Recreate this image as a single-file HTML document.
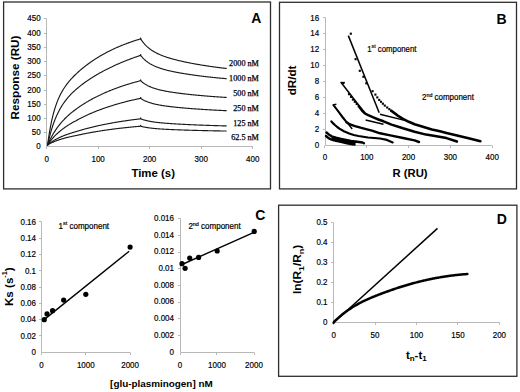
<!DOCTYPE html>
<html><head><meta charset="utf-8"><style>
html,body{margin:0;padding:0;background:#fff;width:520px;height:392px;overflow:hidden}
svg{display:block}
</style></head><body>
<svg width="520" height="392" viewBox="0 0 520 392"><rect x="3.6" y="2.0" width="266.9" height="186.9" fill="none" stroke="#2e2e2e" stroke-width="1.3"/>
<line x1="46.50" y1="146.50" x2="46.50" y2="18.80" stroke="#b8b8b8" stroke-width="1.0" />
<line x1="46.50" y1="146.50" x2="253.00" y2="146.50" stroke="#b8b8b8" stroke-width="1.0" />
<line x1="44.00" y1="132.50" x2="46.50" y2="132.50" stroke="#b8b8b8" stroke-width="1.0" />
<line x1="44.00" y1="118.50" x2="46.50" y2="118.50" stroke="#b8b8b8" stroke-width="1.0" />
<line x1="44.00" y1="104.50" x2="46.50" y2="104.50" stroke="#b8b8b8" stroke-width="1.0" />
<line x1="44.00" y1="90.50" x2="46.50" y2="90.50" stroke="#b8b8b8" stroke-width="1.0" />
<line x1="44.00" y1="75.50" x2="46.50" y2="75.50" stroke="#b8b8b8" stroke-width="1.0" />
<line x1="44.00" y1="61.50" x2="46.50" y2="61.50" stroke="#b8b8b8" stroke-width="1.0" />
<line x1="44.00" y1="47.50" x2="46.50" y2="47.50" stroke="#b8b8b8" stroke-width="1.0" />
<line x1="44.00" y1="33.50" x2="46.50" y2="33.50" stroke="#b8b8b8" stroke-width="1.0" />
<line x1="44.00" y1="18.50" x2="46.50" y2="18.50" stroke="#b8b8b8" stroke-width="1.0" />
<line x1="46.50" y1="146.50" x2="46.50" y2="149.00" stroke="#b8b8b8" stroke-width="1.0" />
<line x1="98.50" y1="146.50" x2="98.50" y2="149.00" stroke="#b8b8b8" stroke-width="1.0" />
<line x1="149.50" y1="146.50" x2="149.50" y2="149.00" stroke="#b8b8b8" stroke-width="1.0" />
<line x1="201.50" y1="146.50" x2="201.50" y2="149.00" stroke="#b8b8b8" stroke-width="1.0" />
<line x1="252.50" y1="146.50" x2="252.50" y2="149.00" stroke="#b8b8b8" stroke-width="1.0" />
<text transform="translate(40.60,149.40) scale(0.87,1)" font-size="9.2" text-anchor="end" font-family="&quot;Liberation Sans&quot;, sans-serif" stroke="#000" stroke-width="0.2">0</text>
<text transform="translate(40.60,135.18) scale(0.87,1)" font-size="9.2" text-anchor="end" font-family="&quot;Liberation Sans&quot;, sans-serif" stroke="#000" stroke-width="0.2">50</text>
<text transform="translate(40.60,120.96) scale(0.87,1)" font-size="9.2" text-anchor="end" font-family="&quot;Liberation Sans&quot;, sans-serif" stroke="#000" stroke-width="0.2">100</text>
<text transform="translate(40.60,106.74) scale(0.87,1)" font-size="9.2" text-anchor="end" font-family="&quot;Liberation Sans&quot;, sans-serif" stroke="#000" stroke-width="0.2">150</text>
<text transform="translate(40.60,92.52) scale(0.87,1)" font-size="9.2" text-anchor="end" font-family="&quot;Liberation Sans&quot;, sans-serif" stroke="#000" stroke-width="0.2">200</text>
<text transform="translate(40.60,78.30) scale(0.87,1)" font-size="9.2" text-anchor="end" font-family="&quot;Liberation Sans&quot;, sans-serif" stroke="#000" stroke-width="0.2">250</text>
<text transform="translate(40.60,64.08) scale(0.87,1)" font-size="9.2" text-anchor="end" font-family="&quot;Liberation Sans&quot;, sans-serif" stroke="#000" stroke-width="0.2">300</text>
<text transform="translate(40.60,49.86) scale(0.87,1)" font-size="9.2" text-anchor="end" font-family="&quot;Liberation Sans&quot;, sans-serif" stroke="#000" stroke-width="0.2">350</text>
<text transform="translate(40.60,35.64) scale(0.87,1)" font-size="9.2" text-anchor="end" font-family="&quot;Liberation Sans&quot;, sans-serif" stroke="#000" stroke-width="0.2">400</text>
<text transform="translate(40.60,21.42) scale(0.87,1)" font-size="9.2" text-anchor="end" font-family="&quot;Liberation Sans&quot;, sans-serif" stroke="#000" stroke-width="0.2">450</text>
<text transform="translate(46.60,161.60) scale(0.87,1)" font-size="9.2" text-anchor="middle" font-family="&quot;Liberation Sans&quot;, sans-serif" stroke="#000" stroke-width="0.2">0</text>
<text transform="translate(98.12,161.60) scale(0.87,1)" font-size="9.2" text-anchor="middle" font-family="&quot;Liberation Sans&quot;, sans-serif" stroke="#000" stroke-width="0.2">100</text>
<text transform="translate(149.64,161.60) scale(0.87,1)" font-size="9.2" text-anchor="middle" font-family="&quot;Liberation Sans&quot;, sans-serif" stroke="#000" stroke-width="0.2">200</text>
<text transform="translate(201.16,161.60) scale(0.87,1)" font-size="9.2" text-anchor="middle" font-family="&quot;Liberation Sans&quot;, sans-serif" stroke="#000" stroke-width="0.2">300</text>
<text transform="translate(252.68,161.60) scale(0.87,1)" font-size="9.2" text-anchor="middle" font-family="&quot;Liberation Sans&quot;, sans-serif" stroke="#000" stroke-width="0.2">400</text>
<text x="0.00" y="0.00" font-size="10.9" text-anchor="middle" font-weight="bold" font-family="&quot;Liberation Sans&quot;, sans-serif" transform="translate(19.4,77.5) rotate(-90) scale(1.075,1)">Response (RU)</text>
<text x="153.20" y="176.80" font-size="11.4" text-anchor="middle" font-weight="bold" font-family="&quot;Liberation Sans&quot;, sans-serif" >Time (s)</text>
<text x="256.20" y="23.40" font-size="14" text-anchor="middle" font-weight="bold" font-family="&quot;Liberation Sans&quot;, sans-serif" >A</text>
<polyline points="47.60,145.00 48.10,141.34 48.60,137.90 49.10,134.68 49.59,131.65 50.09,128.80 50.59,126.13 51.09,123.61 51.59,121.23 52.09,118.99 52.59,116.87 53.08,114.87 53.58,112.98 54.08,111.18 54.58,109.48 55.08,107.86 55.58,106.32 56.08,104.86 56.57,103.46 57.07,102.13 57.57,100.86 58.07,99.64 58.57,98.48 59.07,97.36 59.56,96.29 60.06,95.26 60.56,94.27 61.06,93.31 61.56,92.39 62.06,91.50 62.56,90.64 63.05,89.80 63.55,89.00 64.05,88.22 64.55,87.46 65.05,86.72 65.55,86.00 66.05,85.30 66.54,84.62 67.04,83.95 67.54,83.31 68.04,82.67 68.54,82.05 69.04,81.45 69.54,80.85 70.03,80.27 70.53,79.70 71.03,79.14 71.53,78.59 72.03,78.05 72.53,77.53 73.03,77.00 73.52,76.49 74.02,75.99 74.52,75.49 75.02,75.01 75.52,74.52 76.02,74.05 76.51,73.58 77.01,73.12 77.51,72.67 78.03,72.20 78.54,71.73 79.06,71.27 79.57,70.82 80.09,70.37 80.60,69.93 81.12,69.49 81.63,69.05 82.15,68.62 82.66,68.20 83.18,67.78 83.69,67.37 84.21,66.96 84.72,66.55 85.24,66.15 85.76,65.75 86.27,65.35 86.79,64.96 87.30,64.58 87.82,64.20 88.33,63.82 88.85,63.44 89.36,63.07 89.88,62.70 90.39,62.34 90.91,61.98 91.42,61.62 91.94,61.27 92.45,60.92 92.97,60.57 93.48,60.23 94.00,59.89 94.51,59.55 95.03,59.21 95.54,58.88 96.06,58.55 96.57,58.23 97.09,57.91 97.60,57.59 98.12,57.27 98.64,56.96 99.15,56.65 99.67,56.34 100.18,56.03 100.70,55.73 101.21,55.43 101.73,55.13 102.24,54.84 102.76,54.55 103.27,54.26 103.79,53.97 104.30,53.69 104.82,53.41 105.33,53.13 105.85,52.85 106.36,52.58 106.88,52.31 107.39,52.04 107.91,51.77 108.42,51.51 108.94,51.25 109.45,50.99 109.97,50.73 110.48,50.47 111.00,50.22 111.52,49.97 112.03,49.72 112.55,49.48 113.06,49.23 113.58,48.99 114.09,48.75 114.61,48.51 115.12,48.28 115.64,48.05 116.15,47.81 116.67,47.59 117.18,47.36 117.70,47.13 118.21,46.91 118.73,46.69 119.24,46.47 119.76,46.25 120.27,46.04 120.79,45.82 121.30,45.61 121.82,45.40 122.33,45.19 122.85,44.99 123.36,44.78 123.88,44.58 124.40,44.38 124.91,44.18 125.43,43.99 125.94,43.79 126.46,43.60 126.97,43.41 127.49,43.22 128.00,43.03 128.52,42.84 129.03,42.66 129.55,42.47 130.06,42.29 130.58,42.11 131.09,41.93 131.61,41.75 132.12,41.58 132.64,41.40 133.15,41.23 133.67,41.06 134.18,40.89 134.70,40.72 135.21,40.56 135.73,40.39 136.24,40.23 136.76,40.07 137.28,39.91 137.79,39.75 138.31,39.59 138.82,39.43 139.34,39.28 139.85,39.12 140.37,38.97 140.62,38.00 141.14,39.67 141.65,40.42 142.17,41.13 142.68,41.81 143.20,42.46 143.72,43.09 144.23,43.69 144.75,44.27 145.26,44.82 145.78,45.36 146.29,45.87 146.81,46.36 147.32,46.84 147.84,47.30 148.35,47.74 148.87,48.16 149.38,48.57 149.90,48.97 150.41,49.35 150.93,49.72 151.44,50.08 151.96,50.43 152.47,50.76 152.99,51.09 153.50,51.40 154.02,51.71 154.53,52.00 155.05,52.29 155.56,52.57 156.08,52.84 156.60,53.11 157.11,53.36 157.63,53.61 158.14,53.86 158.66,54.10 159.17,54.33 159.69,54.56 160.20,54.78 160.72,54.99 161.23,55.21 161.75,55.41 162.26,55.62 162.78,55.81 163.29,56.01 163.81,56.20 164.32,56.39 164.84,56.57 165.35,56.75 165.87,56.93 166.38,57.10 166.90,57.27 167.41,57.44 167.93,57.60 168.44,57.76 168.96,57.92 169.48,58.08 169.99,58.24 170.51,58.39 171.02,58.54 171.54,58.69 172.05,58.83 172.57,58.98 173.08,59.12 173.60,59.26 174.11,59.40 174.63,59.53 175.14,59.67 175.66,59.80 176.17,59.93 176.69,60.06 177.20,60.19 177.72,60.32 178.23,60.44 178.75,60.57 179.26,60.69 179.78,60.81 180.29,60.93 180.81,61.05 181.32,61.17 181.84,61.29 182.36,61.40 182.87,61.52 183.39,61.63 183.90,61.74 184.42,61.85 184.93,61.96 185.45,62.07 185.96,62.18 186.48,62.29 186.99,62.39 187.51,62.50 188.02,62.60 188.54,62.71 189.05,62.81 189.57,62.91 190.08,63.01 190.60,63.11 191.11,63.21 191.63,63.31 192.14,63.41 192.66,63.50 193.17,63.60 193.69,63.69 194.20,63.79 194.72,63.88 195.24,63.97 195.75,64.07 196.27,64.16 196.78,64.25 197.30,64.34 197.81,64.43 198.33,64.51 198.84,64.60 199.36,64.69 199.87,64.78 200.39,64.86 200.90,64.95 201.42,65.03 201.93,65.12 202.45,65.20 202.96,65.28 203.48,65.36 203.99,65.44 204.51,65.53 205.02,65.61 205.54,65.68 206.05,65.76 206.57,65.84 207.08,65.92 207.60,66.00 208.12,66.07 208.63,66.15 209.15,66.23 209.66,66.30 210.18,66.38 210.69,66.45 211.21,66.52 211.72,66.60 212.24,66.67 212.75,66.74 213.27,66.81 213.78,66.88 214.30,66.95 214.81,67.02 215.33,67.09 215.84,67.16 216.36,67.23 216.87,67.30 217.39,67.36 217.90,67.43 218.42,67.50 218.93,67.56 219.45,67.63 219.96,67.69 220.48,67.76 221.00,67.82 221.51,67.88 222.03,67.95 222.54,68.01 223.06,68.07 223.57,68.13 224.09,68.19 224.60,68.26 225.12,68.32 225.63,68.38 226.15,68.44" fill="none" stroke="#1a1a1a" stroke-width="1.15" stroke-linejoin="round" stroke-linecap="round" />
<text x="258.90" y="65.50" font-size="8.2" text-anchor="end" font-weight="normal" font-family="&quot;Liberation Serif&quot;, sans-serif" stroke="#000" stroke-width="0.25">2000 nM</text>
<polyline points="47.60,145.00 48.10,142.74 48.60,140.59 49.10,138.52 49.59,136.54 50.09,134.65 50.59,132.83 51.09,131.09 51.59,129.42 52.09,127.81 52.59,126.27 53.08,124.79 53.58,123.37 54.08,122.00 54.58,120.68 55.08,119.41 55.58,118.19 56.08,117.01 56.57,115.87 57.07,114.77 57.57,113.71 58.07,112.69 58.57,111.69 59.07,110.73 59.56,109.80 60.06,108.90 60.56,108.03 61.06,107.18 61.56,106.36 62.06,105.56 62.56,104.79 63.05,104.03 63.55,103.30 64.05,102.59 64.55,101.89 65.05,101.21 65.55,100.55 66.05,99.91 66.54,99.28 67.04,98.66 67.54,98.06 68.04,97.47 68.54,96.90 69.04,96.33 69.54,95.78 70.03,95.24 70.53,94.71 71.03,94.19 71.53,93.68 72.03,93.18 72.53,92.69 73.03,92.21 73.52,91.73 74.02,91.27 74.52,90.81 75.02,90.36 75.52,89.91 76.02,89.48 76.51,89.05 77.01,88.62 77.51,88.20 78.03,87.77 78.54,87.34 79.06,86.91 79.57,86.50 80.09,86.08 80.60,85.67 81.12,85.27 81.63,84.87 82.15,84.47 82.66,84.08 83.18,83.70 83.69,83.32 84.21,82.94 84.72,82.56 85.24,82.19 85.76,81.83 86.27,81.46 86.79,81.10 87.30,80.75 87.82,80.40 88.33,80.05 88.85,79.70 89.36,79.36 89.88,79.02 90.39,78.68 90.91,78.35 91.42,78.02 91.94,77.69 92.45,77.36 92.97,77.04 93.48,76.72 94.00,76.40 94.51,76.09 95.03,75.78 95.54,75.47 96.06,75.16 96.57,74.86 97.09,74.55 97.60,74.25 98.12,73.96 98.64,73.66 99.15,73.37 99.67,73.08 100.18,72.79 100.70,72.50 101.21,72.22 101.73,71.93 102.24,71.65 102.76,71.38 103.27,71.10 103.79,70.83 104.30,70.55 104.82,70.28 105.33,70.01 105.85,69.75 106.36,69.48 106.88,69.22 107.39,68.96 107.91,68.70 108.42,68.44 108.94,68.19 109.45,67.93 109.97,67.68 110.48,67.43 111.00,67.18 111.52,66.94 112.03,66.69 112.55,66.45 113.06,66.21 113.58,65.97 114.09,65.73 114.61,65.49 115.12,65.26 115.64,65.02 116.15,64.79 116.67,64.56 117.18,64.33 117.70,64.11 118.21,63.88 118.73,63.66 119.24,63.43 119.76,63.21 120.27,62.99 120.79,62.77 121.30,62.56 121.82,62.34 122.33,62.13 122.85,61.92 123.36,61.71 123.88,61.50 124.40,61.29 124.91,61.08 125.43,60.88 125.94,60.67 126.46,60.47 126.97,60.27 127.49,60.07 128.00,59.87 128.52,59.67 129.03,59.48 129.55,59.28 130.06,59.09 130.58,58.89 131.09,58.70 131.61,58.51 132.12,58.33 132.64,58.14 133.15,57.95 133.67,57.77 134.18,57.58 134.70,57.40 135.21,57.22 135.73,57.04 136.24,56.86 136.76,56.69 137.28,56.51 137.79,56.33 138.31,56.16 138.82,55.99 139.34,55.82 139.85,55.65 140.37,55.48 140.62,54.49 141.14,56.03 141.65,56.64 142.17,57.23 142.68,57.79 143.20,58.32 143.72,58.84 144.23,59.33 144.75,59.80 145.26,60.25 145.78,60.69 146.29,61.11 146.81,61.51 147.32,61.89 147.84,62.27 148.35,62.62 148.87,62.97 149.38,63.30 149.90,63.62 150.41,63.93 150.93,64.23 151.44,64.51 151.96,64.79 152.47,65.06 152.99,65.32 153.50,65.57 154.02,65.81 154.53,66.05 155.05,66.28 155.56,66.50 156.08,66.72 156.60,66.93 157.11,67.13 157.63,67.33 158.14,67.52 158.66,67.71 159.17,67.89 159.69,68.07 160.20,68.25 160.72,68.42 161.23,68.58 161.75,68.74 162.26,68.90 162.78,69.06 163.29,69.21 163.81,69.36 164.32,69.50 164.84,69.65 165.35,69.79 165.87,69.92 166.38,70.06 166.90,70.19 167.41,70.32 167.93,70.45 168.44,70.57 168.96,70.69 169.48,70.81 169.99,70.93 170.51,71.05 171.02,71.17 171.54,71.28 172.05,71.39 172.57,71.50 173.08,71.61 173.60,71.72 174.11,71.82 174.63,71.93 175.14,72.03 175.66,72.13 176.17,72.23 176.69,72.33 177.20,72.43 177.72,72.53 178.23,72.62 178.75,72.72 179.26,72.81 179.78,72.90 180.29,73.00 180.81,73.09 181.32,73.18 181.84,73.27 182.36,73.35 182.87,73.44 183.39,73.53 183.90,73.61 184.42,73.70 184.93,73.78 185.45,73.86 185.96,73.94 186.48,74.02 186.99,74.11 187.51,74.19 188.02,74.26 188.54,74.34 189.05,74.42 189.57,74.50 190.08,74.57 190.60,74.65 191.11,74.72 191.63,74.80 192.14,74.87 192.66,74.94 193.17,75.02 193.69,75.09 194.20,75.16 194.72,75.23 195.24,75.30 195.75,75.37 196.27,75.44 196.78,75.51 197.30,75.58 197.81,75.64 198.33,75.71 198.84,75.78 199.36,75.84 199.87,75.91 200.39,75.97 200.90,76.04 201.42,76.10 201.93,76.16 202.45,76.23 202.96,76.29 203.48,76.35 203.99,76.41 204.51,76.47 205.02,76.53 205.54,76.60 206.05,76.65 206.57,76.71 207.08,76.77 207.60,76.83 208.12,76.89 208.63,76.95 209.15,77.00 209.66,77.06 210.18,77.12 210.69,77.17 211.21,77.23 211.72,77.28 212.24,77.34 212.75,77.39 213.27,77.45 213.78,77.50 214.30,77.55 214.81,77.60 215.33,77.66 215.84,77.71 216.36,77.76 216.87,77.81 217.39,77.86 217.90,77.91 218.42,77.96 218.93,78.01 219.45,78.06 219.96,78.11 220.48,78.16 221.00,78.21 221.51,78.26 222.03,78.30 222.54,78.35 223.06,78.40 223.57,78.44 224.09,78.49 224.60,78.54 225.12,78.58 225.63,78.63 226.15,78.67" fill="none" stroke="#1a1a1a" stroke-width="1.15" stroke-linejoin="round" stroke-linecap="round" />
<text x="258.90" y="80.60" font-size="8.2" text-anchor="end" font-weight="normal" font-family="&quot;Liberation Serif&quot;, sans-serif" stroke="#000" stroke-width="0.25">1000 nM</text>
<polyline points="47.60,145.00 48.10,143.85 48.60,142.74 49.10,141.66 49.59,140.62 50.09,139.60 50.59,138.61 51.09,137.65 51.59,136.72 52.09,135.81 52.59,134.93 53.08,134.07 53.58,133.23 54.08,132.42 54.58,131.62 55.08,130.85 55.58,130.09 56.08,129.36 56.57,128.64 57.07,127.93 57.57,127.25 58.07,126.57 58.57,125.92 59.07,125.28 59.56,124.65 60.06,124.03 60.56,123.43 61.06,122.84 61.56,122.26 62.06,121.70 62.56,121.14 63.05,120.60 63.55,120.06 64.05,119.54 64.55,119.02 65.05,118.52 65.55,118.02 66.05,117.53 66.54,117.05 67.04,116.58 67.54,116.11 68.04,115.66 68.54,115.21 69.04,114.76 69.54,114.33 70.03,113.90 70.53,113.48 71.03,113.06 71.53,112.65 72.03,112.24 72.53,111.84 73.03,111.45 73.52,111.06 74.02,110.68 74.52,110.30 75.02,109.93 75.52,109.56 76.02,109.20 76.51,108.84 77.01,108.49 77.51,108.14 78.03,107.77 78.54,107.40 79.06,107.04 79.57,106.68 80.09,106.33 80.60,105.98 81.12,105.64 81.63,105.30 82.15,104.96 82.66,104.62 83.18,104.29 83.69,103.96 84.21,103.64 84.72,103.32 85.24,103.00 85.76,102.69 86.27,102.37 86.79,102.06 87.30,101.76 87.82,101.46 88.33,101.15 88.85,100.86 89.36,100.56 89.88,100.27 90.39,99.98 90.91,99.69 91.42,99.41 91.94,99.13 92.45,98.85 92.97,98.57 93.48,98.30 94.00,98.03 94.51,97.76 95.03,97.49 95.54,97.23 96.06,96.96 96.57,96.70 97.09,96.45 97.60,96.19 98.12,95.94 98.64,95.68 99.15,95.43 99.67,95.19 100.18,94.94 100.70,94.70 101.21,94.46 101.73,94.22 102.24,93.98 102.76,93.75 103.27,93.51 103.79,93.28 104.30,93.05 104.82,92.82 105.33,92.60 105.85,92.37 106.36,92.15 106.88,91.93 107.39,91.71 107.91,91.50 108.42,91.28 108.94,91.07 109.45,90.86 109.97,90.65 110.48,90.44 111.00,90.23 111.52,90.03 112.03,89.82 112.55,89.62 113.06,89.42 113.58,89.22 114.09,89.03 114.61,88.83 115.12,88.64 115.64,88.44 116.15,88.25 116.67,88.06 117.18,87.88 117.70,87.69 118.21,87.50 118.73,87.32 119.24,87.14 119.76,86.96 120.27,86.78 120.79,86.60 121.30,86.42 121.82,86.25 122.33,86.07 122.85,85.90 123.36,85.73 123.88,85.56 124.40,85.39 124.91,85.23 125.43,85.06 125.94,84.90 126.46,84.73 126.97,84.57 127.49,84.41 128.00,84.25 128.52,84.09 129.03,83.93 129.55,83.78 130.06,83.62 130.58,83.47 131.09,83.32 131.61,83.17 132.12,83.02 132.64,82.87 133.15,82.72 133.67,82.57 134.18,82.43 134.70,82.28 135.21,82.14 135.73,82.00 136.24,81.86 136.76,81.72 137.28,81.58 137.79,81.44 138.31,81.31 138.82,81.17 139.34,81.04 139.85,80.90 140.37,80.77 140.62,79.80 141.14,81.16 141.65,81.60 142.17,82.03 142.68,82.43 143.20,82.82 143.72,83.19 144.23,83.54 144.75,83.88 145.26,84.21 145.78,84.52 146.29,84.82 146.81,85.11 147.32,85.39 147.84,85.66 148.35,85.91 148.87,86.16 149.38,86.40 149.90,86.63 150.41,86.85 150.93,87.07 151.44,87.27 151.96,87.47 152.47,87.67 152.99,87.85 153.50,88.04 154.02,88.21 154.53,88.38 155.05,88.55 155.56,88.71 156.08,88.86 156.60,89.01 157.11,89.16 157.63,89.30 158.14,89.44 158.66,89.58 159.17,89.71 159.69,89.84 160.20,89.96 160.72,90.08 161.23,90.20 161.75,90.32 162.26,90.43 162.78,90.54 163.29,90.65 163.81,90.76 164.32,90.86 164.84,90.97 165.35,91.07 165.87,91.16 166.38,91.26 166.90,91.36 167.41,91.45 167.93,91.54 168.44,91.63 168.96,91.72 169.48,91.81 169.99,91.89 170.51,91.98 171.02,92.06 171.54,92.14 172.05,92.22 172.57,92.30 173.08,92.38 173.60,92.45 174.11,92.53 174.63,92.61 175.14,92.68 175.66,92.75 176.17,92.82 176.69,92.90 177.20,92.97 177.72,93.04 178.23,93.10 178.75,93.17 179.26,93.24 179.78,93.31 180.29,93.37 180.81,93.44 181.32,93.50 181.84,93.56 182.36,93.63 182.87,93.69 183.39,93.75 183.90,93.81 184.42,93.87 184.93,93.93 185.45,93.99 185.96,94.05 186.48,94.11 186.99,94.17 187.51,94.22 188.02,94.28 188.54,94.34 189.05,94.39 189.57,94.45 190.08,94.50 190.60,94.56 191.11,94.61 191.63,94.66 192.14,94.72 192.66,94.77 193.17,94.82 193.69,94.87 194.20,94.92 194.72,94.98 195.24,95.03 195.75,95.08 196.27,95.13 196.78,95.17 197.30,95.22 197.81,95.27 198.33,95.32 198.84,95.37 199.36,95.41 199.87,95.46 200.39,95.51 200.90,95.55 201.42,95.60 201.93,95.64 202.45,95.69 202.96,95.73 203.48,95.78 203.99,95.82 204.51,95.87 205.02,95.91 205.54,95.95 206.05,96.00 206.57,96.04 207.08,96.08 207.60,96.12 208.12,96.16 208.63,96.21 209.15,96.25 209.66,96.29 210.18,96.33 210.69,96.37 211.21,96.41 211.72,96.45 212.24,96.49 212.75,96.52 213.27,96.56 213.78,96.60 214.30,96.64 214.81,96.68 215.33,96.71 215.84,96.75 216.36,96.79 216.87,96.83 217.39,96.86 217.90,96.90 218.42,96.93 218.93,96.97 219.45,97.01 219.96,97.04 220.48,97.08 221.00,97.11 221.51,97.14 222.03,97.18 222.54,97.21 223.06,97.25 223.57,97.28 224.09,97.31 224.60,97.35 225.12,97.38 225.63,97.41 226.15,97.44" fill="none" stroke="#1a1a1a" stroke-width="1.15" stroke-linejoin="round" stroke-linecap="round" />
<text x="258.90" y="95.90" font-size="8.2" text-anchor="end" font-weight="normal" font-family="&quot;Liberation Serif&quot;, sans-serif" stroke="#000" stroke-width="0.25">500 nM</text>
<polyline points="47.60,145.00 48.10,144.24 48.60,143.51 49.10,142.80 49.59,142.11 50.09,141.44 50.59,140.79 51.09,140.16 51.59,139.54 52.09,138.95 52.59,138.37 53.08,137.80 53.58,137.25 54.08,136.71 54.58,136.18 55.08,135.67 55.58,135.17 56.08,134.67 56.57,134.19 57.07,133.73 57.57,133.27 58.07,132.82 58.57,132.37 59.07,131.94 59.56,131.52 60.06,131.10 60.56,130.69 61.06,130.29 61.56,129.90 62.06,129.51 62.56,129.13 63.05,128.76 63.55,128.39 64.05,128.02 64.55,127.67 65.05,127.32 65.55,126.97 66.05,126.63 66.54,126.29 67.04,125.96 67.54,125.63 68.04,125.31 68.54,124.99 69.04,124.68 69.54,124.37 70.03,124.06 70.53,123.76 71.03,123.46 71.53,123.16 72.03,122.87 72.53,122.58 73.03,122.30 73.52,122.02 74.02,121.74 74.52,121.46 75.02,121.19 75.52,120.92 76.02,120.66 76.51,120.39 77.01,120.13 77.51,119.88 78.03,119.60 78.54,119.32 79.06,119.05 79.57,118.78 80.09,118.51 80.60,118.24 81.12,117.98 81.63,117.72 82.15,117.46 82.66,117.20 83.18,116.95 83.69,116.70 84.21,116.45 84.72,116.20 85.24,115.96 85.76,115.71 86.27,115.47 86.79,115.23 87.30,115.00 87.82,114.76 88.33,114.53 88.85,114.30 89.36,114.07 89.88,113.84 90.39,113.61 90.91,113.39 91.42,113.17 91.94,112.95 92.45,112.73 92.97,112.51 93.48,112.30 94.00,112.09 94.51,111.88 95.03,111.67 95.54,111.46 96.06,111.25 96.57,111.05 97.09,110.84 97.60,110.64 98.12,110.44 98.64,110.25 99.15,110.05 99.67,109.85 100.18,109.66 100.70,109.47 101.21,109.28 101.73,109.09 102.24,108.90 102.76,108.72 103.27,108.53 103.79,108.35 104.30,108.17 104.82,107.99 105.33,107.81 105.85,107.63 106.36,107.45 106.88,107.28 107.39,107.11 107.91,106.93 108.42,106.76 108.94,106.59 109.45,106.43 109.97,106.26 110.48,106.09 111.00,105.93 111.52,105.77 112.03,105.60 112.55,105.44 113.06,105.28 113.58,105.13 114.09,104.97 114.61,104.81 115.12,104.66 115.64,104.51 116.15,104.36 116.67,104.20 117.18,104.05 117.70,103.91 118.21,103.76 118.73,103.61 119.24,103.47 119.76,103.32 120.27,103.18 120.79,103.04 121.30,102.90 121.82,102.76 122.33,102.62 122.85,102.48 123.36,102.35 123.88,102.21 124.40,102.08 124.91,101.94 125.43,101.81 125.94,101.68 126.46,101.55 126.97,101.42 127.49,101.29 128.00,101.17 128.52,101.04 129.03,100.91 129.55,100.79 130.06,100.67 130.58,100.54 131.09,100.42 131.61,100.30 132.12,100.18 132.64,100.06 133.15,99.95 133.67,99.83 134.18,99.71 134.70,99.60 135.21,99.48 135.73,99.37 136.24,99.26 136.76,99.15 137.28,99.04 137.79,98.93 138.31,98.82 138.82,98.71 139.34,98.60 139.85,98.49 140.37,98.39 140.62,97.44 141.14,98.67 141.65,99.00 142.17,99.31 142.68,99.60 143.20,99.89 143.72,100.16 144.23,100.42 144.75,100.67 145.26,100.91 145.78,101.14 146.29,101.36 146.81,101.57 147.32,101.78 147.84,101.97 148.35,102.16 148.87,102.34 149.38,102.52 149.90,102.69 150.41,102.85 150.93,103.01 151.44,103.16 151.96,103.31 152.47,103.45 152.99,103.59 153.50,103.72 154.02,103.85 154.53,103.98 155.05,104.10 155.56,104.22 156.08,104.33 156.60,104.44 157.11,104.55 157.63,104.66 158.14,104.76 158.66,104.86 159.17,104.95 159.69,105.05 160.20,105.14 160.72,105.23 161.23,105.32 161.75,105.41 162.26,105.49 162.78,105.57 163.29,105.65 163.81,105.73 164.32,105.81 164.84,105.88 165.35,105.96 165.87,106.03 166.38,106.10 166.90,106.17 167.41,106.24 167.93,106.31 168.44,106.37 168.96,106.44 169.48,106.50 169.99,106.57 170.51,106.63 171.02,106.69 171.54,106.75 172.05,106.81 172.57,106.87 173.08,106.93 173.60,106.98 174.11,107.04 174.63,107.10 175.14,107.15 175.66,107.20 176.17,107.26 176.69,107.31 177.20,107.36 177.72,107.41 178.23,107.47 178.75,107.52 179.26,107.57 179.78,107.61 180.29,107.66 180.81,107.71 181.32,107.76 181.84,107.81 182.36,107.85 182.87,107.90 183.39,107.94 183.90,107.99 184.42,108.03 184.93,108.08 185.45,108.12 185.96,108.17 186.48,108.21 186.99,108.25 187.51,108.29 188.02,108.34 188.54,108.38 189.05,108.42 189.57,108.46 190.08,108.50 190.60,108.54 191.11,108.58 191.63,108.62 192.14,108.66 192.66,108.70 193.17,108.74 193.69,108.78 194.20,108.81 194.72,108.85 195.24,108.89 195.75,108.92 196.27,108.96 196.78,109.00 197.30,109.03 197.81,109.07 198.33,109.11 198.84,109.14 199.36,109.18 199.87,109.21 200.39,109.24 200.90,109.28 201.42,109.31 201.93,109.35 202.45,109.38 202.96,109.41 203.48,109.45 203.99,109.48 204.51,109.51 205.02,109.54 205.54,109.58 206.05,109.61 206.57,109.64 207.08,109.67 207.60,109.70 208.12,109.73 208.63,109.76 209.15,109.79 209.66,109.82 210.18,109.85 210.69,109.88 211.21,109.91 211.72,109.94 212.24,109.97 212.75,110.00 213.27,110.03 213.78,110.06 214.30,110.08 214.81,110.11 215.33,110.14 215.84,110.17 216.36,110.19 216.87,110.22 217.39,110.25 217.90,110.28 218.42,110.30 218.93,110.33 219.45,110.35 219.96,110.38 220.48,110.41 221.00,110.43 221.51,110.46 222.03,110.48 222.54,110.51 223.06,110.53 223.57,110.56 224.09,110.58 224.60,110.61 225.12,110.63 225.63,110.65 226.15,110.68" fill="none" stroke="#1a1a1a" stroke-width="1.15" stroke-linejoin="round" stroke-linecap="round" />
<text x="258.90" y="110.70" font-size="8.2" text-anchor="end" font-weight="normal" font-family="&quot;Liberation Serif&quot;, sans-serif" stroke="#000" stroke-width="0.25">250 nM</text>
<polyline points="47.60,145.00 48.10,144.58 48.60,144.16 49.10,143.77 49.59,143.38 50.09,143.01 50.59,142.64 51.09,142.29 51.59,141.95 52.09,141.62 52.59,141.29 53.08,140.98 53.58,140.67 54.08,140.37 54.58,140.08 55.08,139.79 55.58,139.51 56.08,139.24 56.57,138.98 57.07,138.72 57.57,138.46 58.07,138.22 58.57,137.97 59.07,137.73 59.56,137.50 60.06,137.27 60.56,137.05 61.06,136.83 61.56,136.61 62.06,136.40 62.56,136.19 63.05,135.98 63.55,135.78 64.05,135.58 64.55,135.39 65.05,135.20 65.55,135.01 66.05,134.82 66.54,134.64 67.04,134.46 67.54,134.28 68.04,134.11 68.54,133.93 69.04,133.76 69.54,133.59 70.03,133.43 70.53,133.26 71.03,133.10 71.53,132.94 72.03,132.79 72.53,132.63 73.03,132.48 73.52,132.33 74.02,132.18 74.52,132.03 75.02,131.88 75.52,131.74 76.02,131.59 76.51,131.45 77.01,131.31 77.51,131.18 78.03,131.02 78.54,130.86 79.06,130.70 79.57,130.55 80.09,130.39 80.60,130.24 81.12,130.09 81.63,129.94 82.15,129.79 82.66,129.64 83.18,129.50 83.69,129.35 84.21,129.21 84.72,129.07 85.24,128.93 85.76,128.79 86.27,128.65 86.79,128.51 87.30,128.38 87.82,128.24 88.33,128.11 88.85,127.97 89.36,127.84 89.88,127.71 90.39,127.58 90.91,127.45 91.42,127.33 91.94,127.20 92.45,127.08 92.97,126.95 93.48,126.83 94.00,126.71 94.51,126.58 95.03,126.46 95.54,126.34 96.06,126.23 96.57,126.11 97.09,125.99 97.60,125.88 98.12,125.76 98.64,125.65 99.15,125.54 99.67,125.42 100.18,125.31 100.70,125.20 101.21,125.09 101.73,124.98 102.24,124.88 102.76,124.77 103.27,124.66 103.79,124.56 104.30,124.46 104.82,124.35 105.33,124.25 105.85,124.15 106.36,124.05 106.88,123.95 107.39,123.85 107.91,123.75 108.42,123.65 108.94,123.55 109.45,123.46 109.97,123.36 110.48,123.27 111.00,123.17 111.52,123.08 112.03,122.98 112.55,122.89 113.06,122.80 113.58,122.71 114.09,122.62 114.61,122.53 115.12,122.44 115.64,122.35 116.15,122.27 116.67,122.18 117.18,122.10 117.70,122.01 118.21,121.93 118.73,121.84 119.24,121.76 119.76,121.68 120.27,121.59 120.79,121.51 121.30,121.43 121.82,121.35 122.33,121.27 122.85,121.19 123.36,121.12 123.88,121.04 124.40,120.96 124.91,120.88 125.43,120.81 125.94,120.73 126.46,120.66 126.97,120.58 127.49,120.51 128.00,120.44 128.52,120.36 129.03,120.29 129.55,120.22 130.06,120.15 130.58,120.08 131.09,120.01 131.61,119.94 132.12,119.87 132.64,119.80 133.15,119.74 133.67,119.67 134.18,119.60 134.70,119.54 135.21,119.47 135.73,119.41 136.24,119.34 136.76,119.28 137.28,119.21 137.79,119.15 138.31,119.09 138.82,119.03 139.34,118.97 139.85,118.90 140.37,118.84 140.62,117.91 141.14,119.01 141.65,119.19 142.17,119.37 142.68,119.54 143.20,119.70 143.72,119.86 144.23,120.01 144.75,120.15 145.26,120.29 145.78,120.42 146.29,120.55 146.81,120.67 147.32,120.79 147.84,120.90 148.35,121.01 148.87,121.12 149.38,121.22 149.90,121.32 150.41,121.41 150.93,121.50 151.44,121.59 151.96,121.67 152.47,121.76 152.99,121.83 153.50,121.91 154.02,121.99 154.53,122.06 155.05,122.13 155.56,122.20 156.08,122.26 156.60,122.33 157.11,122.39 157.63,122.45 158.14,122.51 158.66,122.56 159.17,122.62 159.69,122.68 160.20,122.73 160.72,122.78 161.23,122.83 161.75,122.88 162.26,122.93 162.78,122.98 163.29,123.02 163.81,123.07 164.32,123.11 164.84,123.16 165.35,123.20 165.87,123.24 166.38,123.28 166.90,123.32 167.41,123.36 167.93,123.40 168.44,123.44 168.96,123.48 169.48,123.51 169.99,123.55 170.51,123.59 171.02,123.62 171.54,123.66 172.05,123.69 172.57,123.72 173.08,123.76 173.60,123.79 174.11,123.82 174.63,123.86 175.14,123.89 175.66,123.92 176.17,123.95 176.69,123.98 177.20,124.01 177.72,124.04 178.23,124.07 178.75,124.10 179.26,124.13 179.78,124.15 180.29,124.18 180.81,124.21 181.32,124.24 181.84,124.27 182.36,124.29 182.87,124.32 183.39,124.35 183.90,124.37 184.42,124.40 184.93,124.42 185.45,124.45 185.96,124.47 186.48,124.50 186.99,124.52 187.51,124.55 188.02,124.57 188.54,124.60 189.05,124.62 189.57,124.64 190.08,124.67 190.60,124.69 191.11,124.71 191.63,124.74 192.14,124.76 192.66,124.78 193.17,124.80 193.69,124.83 194.20,124.85 194.72,124.87 195.24,124.89 195.75,124.91 196.27,124.93 196.78,124.95 197.30,124.97 197.81,125.00 198.33,125.02 198.84,125.04 199.36,125.06 199.87,125.08 200.39,125.10 200.90,125.12 201.42,125.14 201.93,125.16 202.45,125.17 202.96,125.19 203.48,125.21 203.99,125.23 204.51,125.25 205.02,125.27 205.54,125.29 206.05,125.31 206.57,125.32 207.08,125.34 207.60,125.36 208.12,125.38 208.63,125.40 209.15,125.41 209.66,125.43 210.18,125.45 210.69,125.46 211.21,125.48 211.72,125.50 212.24,125.52 212.75,125.53 213.27,125.55 213.78,125.56 214.30,125.58 214.81,125.60 215.33,125.61 215.84,125.63 216.36,125.65 216.87,125.66 217.39,125.68 217.90,125.69 218.42,125.71 218.93,125.72 219.45,125.74 219.96,125.75 220.48,125.77 221.00,125.78 221.51,125.80 222.03,125.81 222.54,125.83 223.06,125.84 223.57,125.85 224.09,125.87 224.60,125.88 225.12,125.90 225.63,125.91 226.15,125.92" fill="none" stroke="#1a1a1a" stroke-width="1.15" stroke-linejoin="round" stroke-linecap="round" />
<text x="258.90" y="125.50" font-size="8.2" text-anchor="end" font-weight="normal" font-family="&quot;Liberation Serif&quot;, sans-serif" stroke="#000" stroke-width="0.25">125 nM</text>
<polyline points="47.60,145.00 48.10,144.70 48.60,144.40 49.10,144.12 49.59,143.84 50.09,143.57 50.59,143.31 51.09,143.06 51.59,142.82 52.09,142.58 52.59,142.35 53.08,142.12 53.58,141.90 54.08,141.69 54.58,141.48 55.08,141.28 55.58,141.08 56.08,140.89 56.57,140.70 57.07,140.52 57.57,140.34 58.07,140.17 58.57,139.99 59.07,139.83 59.56,139.66 60.06,139.50 60.56,139.34 61.06,139.19 61.56,139.03 62.06,138.89 62.56,138.74 63.05,138.59 63.55,138.45 64.05,138.31 64.55,138.18 65.05,138.04 65.55,137.91 66.05,137.78 66.54,137.65 67.04,137.53 67.54,137.40 68.04,137.28 68.54,137.16 69.04,137.04 69.54,136.93 70.03,136.81 70.53,136.70 71.03,136.59 71.53,136.48 72.03,136.37 72.53,136.26 73.03,136.15 73.52,136.05 74.02,135.94 74.52,135.84 75.02,135.74 75.52,135.64 76.02,135.54 76.51,135.45 77.01,135.35 77.51,135.26 78.03,135.14 78.54,135.02 79.06,134.91 79.57,134.80 80.09,134.68 80.60,134.57 81.12,134.46 81.63,134.35 82.15,134.24 82.66,134.13 83.18,134.03 83.69,133.92 84.21,133.82 84.72,133.71 85.24,133.61 85.76,133.51 86.27,133.41 86.79,133.31 87.30,133.21 87.82,133.11 88.33,133.01 88.85,132.91 89.36,132.82 89.88,132.72 90.39,132.63 90.91,132.53 91.42,132.44 91.94,132.35 92.45,132.25 92.97,132.16 93.48,132.07 94.00,131.98 94.51,131.90 95.03,131.81 95.54,131.72 96.06,131.63 96.57,131.55 97.09,131.46 97.60,131.38 98.12,131.29 98.64,131.21 99.15,131.13 99.67,131.05 100.18,130.96 100.70,130.88 101.21,130.80 101.73,130.72 102.24,130.65 102.76,130.57 103.27,130.49 103.79,130.41 104.30,130.34 104.82,130.26 105.33,130.19 105.85,130.11 106.36,130.04 106.88,129.96 107.39,129.89 107.91,129.82 108.42,129.75 108.94,129.68 109.45,129.61 109.97,129.54 110.48,129.47 111.00,129.40 111.52,129.33 112.03,129.26 112.55,129.19 113.06,129.13 113.58,129.06 114.09,128.99 114.61,128.93 115.12,128.86 115.64,128.80 116.15,128.74 116.67,128.67 117.18,128.61 117.70,128.55 118.21,128.49 118.73,128.42 119.24,128.36 119.76,128.30 120.27,128.24 120.79,128.18 121.30,128.12 121.82,128.07 122.33,128.01 122.85,127.95 123.36,127.89 123.88,127.84 124.40,127.78 124.91,127.72 125.43,127.67 125.94,127.61 126.46,127.56 126.97,127.50 127.49,127.45 128.00,127.40 128.52,127.34 129.03,127.29 129.55,127.24 130.06,127.19 130.58,127.14 131.09,127.08 131.61,127.03 132.12,126.98 132.64,126.93 133.15,126.88 133.67,126.83 134.18,126.79 134.70,126.74 135.21,126.69 135.73,126.64 136.24,126.59 136.76,126.55 137.28,126.50 137.79,126.46 138.31,126.41 138.82,126.36 139.34,126.32 139.85,126.27 140.37,126.23 140.62,125.31 141.14,126.35 141.65,126.48 142.17,126.60 142.68,126.73 143.20,126.84 143.72,126.95 144.23,127.06 144.75,127.16 145.26,127.26 145.78,127.35 146.29,127.44 146.81,127.53 147.32,127.61 147.84,127.69 148.35,127.76 148.87,127.84 149.38,127.91 149.90,127.98 150.41,128.04 150.93,128.11 151.44,128.17 151.96,128.23 152.47,128.28 152.99,128.34 153.50,128.39 154.02,128.44 154.53,128.49 155.05,128.54 155.56,128.59 156.08,128.63 156.60,128.68 157.11,128.72 157.63,128.76 158.14,128.80 158.66,128.84 159.17,128.88 159.69,128.91 160.20,128.95 160.72,128.98 161.23,129.02 161.75,129.05 162.26,129.09 162.78,129.12 163.29,129.15 163.81,129.18 164.32,129.21 164.84,129.24 165.35,129.27 165.87,129.29 166.38,129.32 166.90,129.35 167.41,129.38 167.93,129.40 168.44,129.43 168.96,129.45 169.48,129.48 169.99,129.50 170.51,129.52 171.02,129.55 171.54,129.57 172.05,129.59 172.57,129.62 173.08,129.64 173.60,129.66 174.11,129.68 174.63,129.70 175.14,129.72 175.66,129.74 176.17,129.76 176.69,129.78 177.20,129.80 177.72,129.82 178.23,129.84 178.75,129.86 179.26,129.88 179.78,129.90 180.29,129.92 180.81,129.94 181.32,129.95 181.84,129.97 182.36,129.99 182.87,130.01 183.39,130.02 183.90,130.04 184.42,130.06 184.93,130.07 185.45,130.09 185.96,130.11 186.48,130.12 186.99,130.14 187.51,130.16 188.02,130.17 188.54,130.19 189.05,130.20 189.57,130.22 190.08,130.23 190.60,130.25 191.11,130.26 191.63,130.28 192.14,130.29 192.66,130.31 193.17,130.32 193.69,130.34 194.20,130.35 194.72,130.36 195.24,130.38 195.75,130.39 196.27,130.41 196.78,130.42 197.30,130.43 197.81,130.45 198.33,130.46 198.84,130.47 199.36,130.49 199.87,130.50 200.39,130.51 200.90,130.53 201.42,130.54 201.93,130.55 202.45,130.56 202.96,130.58 203.48,130.59 203.99,130.60 204.51,130.61 205.02,130.62 205.54,130.64 206.05,130.65 206.57,130.66 207.08,130.67 207.60,130.68 208.12,130.70 208.63,130.71 209.15,130.72 209.66,130.73 210.18,130.74 210.69,130.75 211.21,130.76 211.72,130.77 212.24,130.78 212.75,130.80 213.27,130.81 213.78,130.82 214.30,130.83 214.81,130.84 215.33,130.85 215.84,130.86 216.36,130.87 216.87,130.88 217.39,130.89 217.90,130.90 218.42,130.91 218.93,130.92 219.45,130.93 219.96,130.94 220.48,130.95 221.00,130.96 221.51,130.97 222.03,130.98 222.54,130.99 223.06,131.00 223.57,131.00 224.09,131.01 224.60,131.02 225.12,131.03 225.63,131.04 226.15,131.05" fill="none" stroke="#1a1a1a" stroke-width="1.15" stroke-linejoin="round" stroke-linecap="round" />
<text x="258.90" y="140.00" font-size="8.2" text-anchor="end" font-weight="normal" font-family="&quot;Liberation Serif&quot;, sans-serif" stroke="#000" stroke-width="0.25">62.5 nM</text>
<rect x="279.5" y="2.3" width="237.0" height="186.6" fill="none" stroke="#2e2e2e" stroke-width="1.3"/>
<line x1="325.50" y1="145.50" x2="325.50" y2="17.50" stroke="#b8b8b8" stroke-width="1.0" />
<line x1="325.50" y1="145.50" x2="491.80" y2="145.50" stroke="#b8b8b8" stroke-width="1.0" />
<line x1="323.00" y1="129.50" x2="325.50" y2="129.50" stroke="#b8b8b8" stroke-width="1.0" />
<line x1="323.00" y1="113.50" x2="325.50" y2="113.50" stroke="#b8b8b8" stroke-width="1.0" />
<line x1="323.00" y1="97.50" x2="325.50" y2="97.50" stroke="#b8b8b8" stroke-width="1.0" />
<line x1="323.00" y1="81.50" x2="325.50" y2="81.50" stroke="#b8b8b8" stroke-width="1.0" />
<line x1="323.00" y1="65.50" x2="325.50" y2="65.50" stroke="#b8b8b8" stroke-width="1.0" />
<line x1="323.00" y1="49.50" x2="325.50" y2="49.50" stroke="#b8b8b8" stroke-width="1.0" />
<line x1="323.00" y1="33.50" x2="325.50" y2="33.50" stroke="#b8b8b8" stroke-width="1.0" />
<line x1="323.00" y1="17.50" x2="325.50" y2="17.50" stroke="#b8b8b8" stroke-width="1.0" />
<line x1="324.50" y1="145.50" x2="324.50" y2="148.00" stroke="#b8b8b8" stroke-width="1.0" />
<line x1="366.50" y1="145.50" x2="366.50" y2="148.00" stroke="#b8b8b8" stroke-width="1.0" />
<line x1="408.50" y1="145.50" x2="408.50" y2="148.00" stroke="#b8b8b8" stroke-width="1.0" />
<line x1="450.50" y1="145.50" x2="450.50" y2="148.00" stroke="#b8b8b8" stroke-width="1.0" />
<line x1="492.50" y1="145.50" x2="492.50" y2="148.00" stroke="#b8b8b8" stroke-width="1.0" />
<text transform="translate(319.20,147.70) scale(0.87,1)" font-size="9.2" text-anchor="end" font-family="&quot;Liberation Sans&quot;, sans-serif" stroke="#000" stroke-width="0.2">0</text>
<text transform="translate(319.20,131.80) scale(0.87,1)" font-size="9.2" text-anchor="end" font-family="&quot;Liberation Sans&quot;, sans-serif" stroke="#000" stroke-width="0.2">2</text>
<text transform="translate(319.20,115.90) scale(0.87,1)" font-size="9.2" text-anchor="end" font-family="&quot;Liberation Sans&quot;, sans-serif" stroke="#000" stroke-width="0.2">4</text>
<text transform="translate(319.20,100.00) scale(0.87,1)" font-size="9.2" text-anchor="end" font-family="&quot;Liberation Sans&quot;, sans-serif" stroke="#000" stroke-width="0.2">6</text>
<text transform="translate(319.20,84.10) scale(0.87,1)" font-size="9.2" text-anchor="end" font-family="&quot;Liberation Sans&quot;, sans-serif" stroke="#000" stroke-width="0.2">8</text>
<text transform="translate(319.20,68.20) scale(0.87,1)" font-size="9.2" text-anchor="end" font-family="&quot;Liberation Sans&quot;, sans-serif" stroke="#000" stroke-width="0.2">10</text>
<text transform="translate(319.20,52.30) scale(0.87,1)" font-size="9.2" text-anchor="end" font-family="&quot;Liberation Sans&quot;, sans-serif" stroke="#000" stroke-width="0.2">12</text>
<text transform="translate(319.20,36.40) scale(0.87,1)" font-size="9.2" text-anchor="end" font-family="&quot;Liberation Sans&quot;, sans-serif" stroke="#000" stroke-width="0.2">14</text>
<text transform="translate(319.20,20.50) scale(0.87,1)" font-size="9.2" text-anchor="end" font-family="&quot;Liberation Sans&quot;, sans-serif" stroke="#000" stroke-width="0.2">16</text>
<text transform="translate(325.00,160.20) scale(0.87,1)" font-size="9.2" text-anchor="middle" font-family="&quot;Liberation Sans&quot;, sans-serif" stroke="#000" stroke-width="0.2">0</text>
<text transform="translate(366.80,160.20) scale(0.87,1)" font-size="9.2" text-anchor="middle" font-family="&quot;Liberation Sans&quot;, sans-serif" stroke="#000" stroke-width="0.2">100</text>
<text transform="translate(408.60,160.20) scale(0.87,1)" font-size="9.2" text-anchor="middle" font-family="&quot;Liberation Sans&quot;, sans-serif" stroke="#000" stroke-width="0.2">200</text>
<text transform="translate(450.40,160.20) scale(0.87,1)" font-size="9.2" text-anchor="middle" font-family="&quot;Liberation Sans&quot;, sans-serif" stroke="#000" stroke-width="0.2">300</text>
<text transform="translate(492.20,160.20) scale(0.87,1)" font-size="9.2" text-anchor="middle" font-family="&quot;Liberation Sans&quot;, sans-serif" stroke="#000" stroke-width="0.2">400</text>
<text x="0.00" y="0.00" font-size="10.9" text-anchor="middle" font-weight="bold" font-family="&quot;Liberation Sans&quot;, sans-serif" transform="translate(296.4,80.5) rotate(-90) scale(1.07,1)">dR/dt</text>
<text x="410.00" y="177.20" font-size="11.3" text-anchor="middle" font-weight="bold" font-family="&quot;Liberation Sans&quot;, sans-serif" >R (RU)</text>
<text x="501.60" y="23.60" font-size="14" text-anchor="middle" font-weight="bold" font-family="&quot;Liberation Sans&quot;, sans-serif" >B</text>
<text textLength="49.2" lengthAdjust="spacingAndGlyphs" x="367.2" y="51.7" font-size="8.3" font-family="&quot;Liberation Sans&quot;, sans-serif" stroke="#000" stroke-width="0.2">1<tspan font-size="5.6" dy="-3.3">st</tspan><tspan dy="3.3"> component</tspan></text>
<text textLength="51.9" lengthAdjust="spacingAndGlyphs" x="422.0" y="100.2" font-size="8.3" font-family="&quot;Liberation Sans&quot;, sans-serif" stroke="#000" stroke-width="0.2">2<tspan font-size="5.6" dy="-3.3">nd</tspan><tspan dy="3.3"> component</tspan></text>
<polygon points="331.6,136.8 341,139.2 351,141.4 357,142.2 354.5,144.3 351,143.7 341,141.6 331.6,139.2" fill="#000"/>
<polyline points="391.20,110.80 393.50,112.40 397.30,115.30 403.00,118.80 408.80,121.80 414.60,124.20 420.40,126.00 426.10,127.70 431.90,129.40 440.00,131.30 446.50,132.90 458.10,135.80 469.60,138.60 480.40,141.20" fill="none" stroke="#000" stroke-width="2.6" stroke-linejoin="round" stroke-linecap="round" />
<polyline points="359.50,107.30 362.00,110.50 365.00,113.50 368.20,115.20 373.30,117.30 378.40,119.50 383.50,121.30 391.50,124.60 403.00,128.30 414.60,131.70 426.10,134.60 435.00,135.90 446.50,138.10 456.90,141.50" fill="none" stroke="#000" stroke-width="2.5" stroke-linejoin="round" stroke-linecap="round" />
<polyline points="333.60,105.40 336.50,109.20 340.00,114.00 343.00,118.30 346.50,122.30" fill="none" stroke="#000" stroke-width="1.7" stroke-linejoin="round" stroke-linecap="round" />
<polyline points="346.50,122.30 348.50,123.60 350.80,124.60 355.00,126.10 360.50,127.70 366.00,129.10 372.00,130.60 380.00,133.30 391.50,135.60 403.00,138.00 414.60,140.40 419.00,142.00" fill="none" stroke="#000" stroke-width="2.4" stroke-linejoin="round" stroke-linecap="round" />
<polyline points="331.40,121.40 333.20,123.40 334.90,125.00 337.20,127.00 339.40,128.60 343.90,131.30 349.20,133.50 353.70,135.00 358.50,136.00 368.00,137.50 380.00,138.50 386.90,139.90 392.70,142.40" fill="none" stroke="#000" stroke-width="2.2" stroke-linejoin="round" stroke-linecap="round" />
<polyline points="326.50,132.50 328.50,134.20 331.60,136.30 336.00,137.60 341.00,138.80 346.00,139.90 351.00,141.00 357.00,141.80 362.50,142.50 364.00,143.30" fill="none" stroke="#000" stroke-width="2.4" stroke-linejoin="round" stroke-linecap="round" />
<polyline points="326.00,136.00 328.50,138.20 331.60,139.60 336.00,140.80 341.00,141.90 346.00,143.00 351.00,144.00 354.50,144.50" fill="none" stroke="#000" stroke-width="2.4" stroke-linejoin="round" stroke-linecap="round" />
<rect x="349.75" y="32.65" width="2.1" height="2.1" fill="#000"/>
<rect x="354.55" y="58.15" width="2.1" height="2.1" fill="#000"/>
<rect x="358.75" y="69.75" width="2.1" height="2.1" fill="#000"/>
<rect x="362.35" y="75.75" width="2.1" height="2.1" fill="#000"/>
<rect x="365.25" y="82.25" width="2.1" height="2.1" fill="#000"/>
<rect x="371.55" y="90.15" width="2.1" height="2.1" fill="#000"/>
<rect x="374.35" y="93.55" width="2.1" height="2.1" fill="#000"/>
<rect x="376.25" y="96.35" width="2.1" height="2.1" fill="#000"/>
<rect x="378.15" y="98.85" width="2.1" height="2.1" fill="#000"/>
<rect x="379.95" y="100.75" width="2.1" height="2.1" fill="#000"/>
<rect x="381.85" y="102.65" width="2.1" height="2.1" fill="#000"/>
<rect x="383.75" y="104.55" width="2.1" height="2.1" fill="#000"/>
<rect x="386.15" y="106.45" width="2.1" height="2.1" fill="#000"/>
<rect x="388.25" y="108.15" width="2.1" height="2.1" fill="#000"/>
<rect x="390.15" y="109.65" width="2.1" height="2.1" fill="#000"/>
<rect x="342.25" y="81.95" width="2.1" height="2.1" fill="#000"/>
<rect x="347.95" y="93.15" width="2.1" height="2.1" fill="#000"/>
<rect x="349.95" y="95.85" width="2.1" height="2.1" fill="#000"/>
<rect x="351.85" y="98.55" width="2.1" height="2.1" fill="#000"/>
<rect x="353.75" y="100.75" width="2.1" height="2.1" fill="#000"/>
<rect x="355.65" y="102.95" width="2.1" height="2.1" fill="#000"/>
<rect x="357.55" y="105.15" width="2.1" height="2.1" fill="#000"/>
<line x1="332.60" y1="104.90" x2="336.40" y2="104.30" stroke="#000" stroke-width="1.5" />
<line x1="341.20" y1="82.60" x2="344.80" y2="82.60" stroke="#000" stroke-width="1.4" />
<line x1="348.30" y1="35.60" x2="379.20" y2="112.70" stroke="#000" stroke-width="1.5" />
<line x1="380.00" y1="114.20" x2="404.60" y2="120.40" stroke="#000" stroke-width="1.4" />
<line x1="340.70" y1="82.00" x2="365.00" y2="113.30" stroke="#000" stroke-width="1.5" />
<line x1="365.60" y1="120.00" x2="383.50" y2="124.20" stroke="#000" stroke-width="1.4" />
<line x1="334.20" y1="105.80" x2="352.20" y2="129.00" stroke="#000" stroke-width="1.4" />
<text x="260.20" y="220.20" font-size="14" text-anchor="middle" font-weight="bold" font-family="&quot;Liberation Sans&quot;, sans-serif" >C</text>
<line x1="41.50" y1="352.50" x2="41.50" y2="221.60" stroke="#b8b8b8" stroke-width="1.0" />
<line x1="41.50" y1="352.50" x2="130.20" y2="352.50" stroke="#b8b8b8" stroke-width="1.0" />
<line x1="39.00" y1="335.50" x2="41.50" y2="335.50" stroke="#b8b8b8" stroke-width="1.0" />
<line x1="39.00" y1="319.50" x2="41.50" y2="319.50" stroke="#b8b8b8" stroke-width="1.0" />
<line x1="39.00" y1="303.50" x2="41.50" y2="303.50" stroke="#b8b8b8" stroke-width="1.0" />
<line x1="39.00" y1="287.50" x2="41.50" y2="287.50" stroke="#b8b8b8" stroke-width="1.0" />
<line x1="39.00" y1="270.50" x2="41.50" y2="270.50" stroke="#b8b8b8" stroke-width="1.0" />
<line x1="39.00" y1="254.50" x2="41.50" y2="254.50" stroke="#b8b8b8" stroke-width="1.0" />
<line x1="39.00" y1="238.50" x2="41.50" y2="238.50" stroke="#b8b8b8" stroke-width="1.0" />
<line x1="39.00" y1="221.50" x2="41.50" y2="221.50" stroke="#b8b8b8" stroke-width="1.0" />
<line x1="41.50" y1="352.50" x2="41.50" y2="355.00" stroke="#b8b8b8" stroke-width="1.0" />
<line x1="85.50" y1="352.50" x2="85.50" y2="355.00" stroke="#b8b8b8" stroke-width="1.0" />
<line x1="130.50" y1="352.50" x2="130.50" y2="355.00" stroke="#b8b8b8" stroke-width="1.0" />
<text transform="translate(36.00,355.10) scale(0.87,1)" font-size="9.2" text-anchor="end" font-family="&quot;Liberation Sans&quot;, sans-serif" stroke="#000" stroke-width="0.2">0</text>
<text transform="translate(36.00,338.78) scale(0.87,1)" font-size="9.2" text-anchor="end" font-family="&quot;Liberation Sans&quot;, sans-serif" stroke="#000" stroke-width="0.2">0.02</text>
<text transform="translate(36.00,322.46) scale(0.87,1)" font-size="9.2" text-anchor="end" font-family="&quot;Liberation Sans&quot;, sans-serif" stroke="#000" stroke-width="0.2">0.04</text>
<text transform="translate(36.00,306.14) scale(0.87,1)" font-size="9.2" text-anchor="end" font-family="&quot;Liberation Sans&quot;, sans-serif" stroke="#000" stroke-width="0.2">0.06</text>
<text transform="translate(36.00,289.82) scale(0.87,1)" font-size="9.2" text-anchor="end" font-family="&quot;Liberation Sans&quot;, sans-serif" stroke="#000" stroke-width="0.2">0.08</text>
<text transform="translate(36.00,273.50) scale(0.87,1)" font-size="9.2" text-anchor="end" font-family="&quot;Liberation Sans&quot;, sans-serif" stroke="#000" stroke-width="0.2">0.1</text>
<text transform="translate(36.00,257.18) scale(0.87,1)" font-size="9.2" text-anchor="end" font-family="&quot;Liberation Sans&quot;, sans-serif" stroke="#000" stroke-width="0.2">0.12</text>
<text transform="translate(36.00,240.86) scale(0.87,1)" font-size="9.2" text-anchor="end" font-family="&quot;Liberation Sans&quot;, sans-serif" stroke="#000" stroke-width="0.2">0.14</text>
<text transform="translate(36.00,224.54) scale(0.87,1)" font-size="9.2" text-anchor="end" font-family="&quot;Liberation Sans&quot;, sans-serif" stroke="#000" stroke-width="0.2">0.16</text>
<text transform="translate(41.50,368.00) scale(0.87,1)" font-size="9.2" text-anchor="middle" font-family="&quot;Liberation Sans&quot;, sans-serif" stroke="#000" stroke-width="0.2">0</text>
<text transform="translate(85.80,368.00) scale(0.87,1)" font-size="9.2" text-anchor="middle" font-family="&quot;Liberation Sans&quot;, sans-serif" stroke="#000" stroke-width="0.2">1000</text>
<text transform="translate(130.10,368.00) scale(0.87,1)" font-size="9.2" text-anchor="middle" font-family="&quot;Liberation Sans&quot;, sans-serif" stroke="#000" stroke-width="0.2">2000</text>
<circle cx="44.27" cy="319.66" r="2.6" fill="#000"/>
<circle cx="47.04" cy="313.95" r="2.6" fill="#000"/>
<circle cx="52.58" cy="310.68" r="2.6" fill="#000"/>
<circle cx="63.65" cy="300.08" r="2.6" fill="#000"/>
<circle cx="85.80" cy="294.36" r="2.6" fill="#000"/>
<circle cx="130.10" cy="247.04" r="2.6" fill="#000"/>
<line x1="42.90" y1="320.60" x2="129.20" y2="251.20" stroke="#000" stroke-width="1.4" />
<text textLength="50.5" lengthAdjust="spacingAndGlyphs" x="58.6" y="228.6" font-size="8.3" font-family="&quot;Liberation Sans&quot;, sans-serif" stroke="#000" stroke-width="0.2">1<tspan font-size="5.6" dy="-3.3">st</tspan><tspan dy="3.3"> component</tspan></text>
<text x="0" y="0" font-size="10.6" font-weight="bold" text-anchor="middle" font-family="&quot;Liberation Sans&quot;, sans-serif" transform="translate(12.9,286.7) rotate(-90) scale(1.1,1)">Ks (s<tspan font-size="6.6" dy="-5.6">-1</tspan><tspan dy="5.6">)</tspan></text>
<text x="161.40" y="387.20" font-size="9.9" text-anchor="middle" font-weight="bold" font-family="&quot;Liberation Sans&quot;, sans-serif" >[glu-plasminogen] nM</text>
<line x1="180.50" y1="352.50" x2="180.50" y2="218.50" stroke="#b8b8b8" stroke-width="1.0" />
<line x1="180.50" y1="352.50" x2="254.20" y2="352.50" stroke="#b8b8b8" stroke-width="1.0" />
<line x1="178.00" y1="335.50" x2="180.50" y2="335.50" stroke="#b8b8b8" stroke-width="1.0" />
<line x1="178.00" y1="318.50" x2="180.50" y2="318.50" stroke="#b8b8b8" stroke-width="1.0" />
<line x1="178.00" y1="302.50" x2="180.50" y2="302.50" stroke="#b8b8b8" stroke-width="1.0" />
<line x1="178.00" y1="285.50" x2="180.50" y2="285.50" stroke="#b8b8b8" stroke-width="1.0" />
<line x1="178.00" y1="268.50" x2="180.50" y2="268.50" stroke="#b8b8b8" stroke-width="1.0" />
<line x1="178.00" y1="252.50" x2="180.50" y2="252.50" stroke="#b8b8b8" stroke-width="1.0" />
<line x1="178.00" y1="235.50" x2="180.50" y2="235.50" stroke="#b8b8b8" stroke-width="1.0" />
<line x1="178.00" y1="218.50" x2="180.50" y2="218.50" stroke="#b8b8b8" stroke-width="1.0" />
<line x1="180.50" y1="352.50" x2="180.50" y2="355.00" stroke="#b8b8b8" stroke-width="1.0" />
<line x1="216.50" y1="352.50" x2="216.50" y2="355.00" stroke="#b8b8b8" stroke-width="1.0" />
<line x1="254.50" y1="352.50" x2="254.50" y2="355.00" stroke="#b8b8b8" stroke-width="1.0" />
<text transform="translate(174.00,354.50) scale(0.87,1)" font-size="9.2" text-anchor="end" font-family="&quot;Liberation Sans&quot;, sans-serif" stroke="#000" stroke-width="0.2">0</text>
<text transform="translate(174.00,337.81) scale(0.87,1)" font-size="9.2" text-anchor="end" font-family="&quot;Liberation Sans&quot;, sans-serif" stroke="#000" stroke-width="0.2">0.002</text>
<text transform="translate(174.00,321.12) scale(0.87,1)" font-size="9.2" text-anchor="end" font-family="&quot;Liberation Sans&quot;, sans-serif" stroke="#000" stroke-width="0.2">0.004</text>
<text transform="translate(174.00,304.43) scale(0.87,1)" font-size="9.2" text-anchor="end" font-family="&quot;Liberation Sans&quot;, sans-serif" stroke="#000" stroke-width="0.2">0.006</text>
<text transform="translate(174.00,287.74) scale(0.87,1)" font-size="9.2" text-anchor="end" font-family="&quot;Liberation Sans&quot;, sans-serif" stroke="#000" stroke-width="0.2">0.008</text>
<text transform="translate(174.00,271.05) scale(0.87,1)" font-size="9.2" text-anchor="end" font-family="&quot;Liberation Sans&quot;, sans-serif" stroke="#000" stroke-width="0.2">0.01</text>
<text transform="translate(174.00,254.36) scale(0.87,1)" font-size="9.2" text-anchor="end" font-family="&quot;Liberation Sans&quot;, sans-serif" stroke="#000" stroke-width="0.2">0.012</text>
<text transform="translate(174.00,237.67) scale(0.87,1)" font-size="9.2" text-anchor="end" font-family="&quot;Liberation Sans&quot;, sans-serif" stroke="#000" stroke-width="0.2">0.014</text>
<text transform="translate(174.00,220.98) scale(0.87,1)" font-size="9.2" text-anchor="end" font-family="&quot;Liberation Sans&quot;, sans-serif" stroke="#000" stroke-width="0.2">0.016</text>
<text transform="translate(180.00,367.80) scale(0.87,1)" font-size="9.2" text-anchor="middle" font-family="&quot;Liberation Sans&quot;, sans-serif" stroke="#000" stroke-width="0.2">0</text>
<text transform="translate(217.00,367.80) scale(0.87,1)" font-size="9.2" text-anchor="middle" font-family="&quot;Liberation Sans&quot;, sans-serif" stroke="#000" stroke-width="0.2">1000</text>
<text transform="translate(254.00,367.80) scale(0.87,1)" font-size="9.2" text-anchor="middle" font-family="&quot;Liberation Sans&quot;, sans-serif" stroke="#000" stroke-width="0.2">2000</text>
<circle cx="182.00" cy="263.70" r="2.6" fill="#000"/>
<circle cx="185.10" cy="268.30" r="2.6" fill="#000"/>
<circle cx="189.70" cy="258.10" r="2.6" fill="#000"/>
<circle cx="198.60" cy="257.40" r="2.6" fill="#000"/>
<circle cx="217.20" cy="251.00" r="2.6" fill="#000"/>
<circle cx="254.20" cy="231.40" r="2.6" fill="#000"/>
<line x1="182.00" y1="264.50" x2="253.40" y2="232.60" stroke="#000" stroke-width="1.4" />
<text textLength="52.3" lengthAdjust="spacingAndGlyphs" x="188.4" y="229.1" font-size="8.3" font-family="&quot;Liberation Sans&quot;, sans-serif" stroke="#000" stroke-width="0.2">2<tspan font-size="5.6" dy="-3.3">nd</tspan><tspan dy="3.3"> component</tspan></text>
<rect x="278.6" y="205.2" width="238.3" height="171.1" fill="none" stroke="#2e2e2e" stroke-width="1.3"/>
<line x1="333.50" y1="322.50" x2="333.50" y2="222.50" stroke="#b8b8b8" stroke-width="1.0" />
<line x1="333.50" y1="322.50" x2="499.60" y2="322.50" stroke="#b8b8b8" stroke-width="1.0" />
<line x1="331.00" y1="302.50" x2="333.50" y2="302.50" stroke="#b8b8b8" stroke-width="1.0" />
<line x1="331.00" y1="282.50" x2="333.50" y2="282.50" stroke="#b8b8b8" stroke-width="1.0" />
<line x1="331.00" y1="262.50" x2="333.50" y2="262.50" stroke="#b8b8b8" stroke-width="1.0" />
<line x1="331.00" y1="242.50" x2="333.50" y2="242.50" stroke="#b8b8b8" stroke-width="1.0" />
<line x1="331.00" y1="222.50" x2="333.50" y2="222.50" stroke="#b8b8b8" stroke-width="1.0" />
<line x1="333.50" y1="322.50" x2="333.50" y2="325.00" stroke="#b8b8b8" stroke-width="1.0" />
<line x1="375.50" y1="322.50" x2="375.50" y2="325.00" stroke="#b8b8b8" stroke-width="1.0" />
<line x1="416.50" y1="322.50" x2="416.50" y2="325.00" stroke="#b8b8b8" stroke-width="1.0" />
<line x1="457.50" y1="322.50" x2="457.50" y2="325.00" stroke="#b8b8b8" stroke-width="1.0" />
<line x1="499.50" y1="322.50" x2="499.50" y2="325.00" stroke="#b8b8b8" stroke-width="1.0" />
<text transform="translate(327.50,325.00) scale(0.87,1)" font-size="9.2" text-anchor="end" font-family="&quot;Liberation Sans&quot;, sans-serif" stroke="#000" stroke-width="0.2">0</text>
<text transform="translate(327.50,305.00) scale(0.87,1)" font-size="9.2" text-anchor="end" font-family="&quot;Liberation Sans&quot;, sans-serif" stroke="#000" stroke-width="0.2">0.1</text>
<text transform="translate(327.50,285.00) scale(0.87,1)" font-size="9.2" text-anchor="end" font-family="&quot;Liberation Sans&quot;, sans-serif" stroke="#000" stroke-width="0.2">0.2</text>
<text transform="translate(327.50,265.00) scale(0.87,1)" font-size="9.2" text-anchor="end" font-family="&quot;Liberation Sans&quot;, sans-serif" stroke="#000" stroke-width="0.2">0.3</text>
<text transform="translate(327.50,245.00) scale(0.87,1)" font-size="9.2" text-anchor="end" font-family="&quot;Liberation Sans&quot;, sans-serif" stroke="#000" stroke-width="0.2">0.4</text>
<text transform="translate(327.50,225.00) scale(0.87,1)" font-size="9.2" text-anchor="end" font-family="&quot;Liberation Sans&quot;, sans-serif" stroke="#000" stroke-width="0.2">0.5</text>
<text transform="translate(333.60,338.40) scale(0.87,1)" font-size="9.2" text-anchor="middle" font-family="&quot;Liberation Sans&quot;, sans-serif" stroke="#000" stroke-width="0.2">0</text>
<text transform="translate(375.05,338.40) scale(0.87,1)" font-size="9.2" text-anchor="middle" font-family="&quot;Liberation Sans&quot;, sans-serif" stroke="#000" stroke-width="0.2">50</text>
<text transform="translate(416.50,338.40) scale(0.87,1)" font-size="9.2" text-anchor="middle" font-family="&quot;Liberation Sans&quot;, sans-serif" stroke="#000" stroke-width="0.2">100</text>
<text transform="translate(457.95,338.40) scale(0.87,1)" font-size="9.2" text-anchor="middle" font-family="&quot;Liberation Sans&quot;, sans-serif" stroke="#000" stroke-width="0.2">150</text>
<text transform="translate(499.40,338.40) scale(0.87,1)" font-size="9.2" text-anchor="middle" font-family="&quot;Liberation Sans&quot;, sans-serif" stroke="#000" stroke-width="0.2">200</text>
<text x="0" y="0" font-size="10.6" font-weight="bold" text-anchor="middle" font-family="&quot;Liberation Sans&quot;, sans-serif" transform="translate(301.4,269.4) rotate(-90) scale(1.12,1)">ln(R<tspan font-size="8" dy="2.2">1</tspan><tspan dy="-2.2">/R</tspan><tspan font-size="8" dy="2.2">n</tspan><tspan dy="-2.2">)</tspan></text>
<text x="416.3" y="358.6" font-size="11.4" font-weight="bold" text-anchor="middle" font-family="&quot;Liberation Sans&quot;, sans-serif">t<tspan font-size="8" dy="2">n</tspan><tspan dy="-2">-t</tspan><tspan font-size="8" dy="2">1</tspan></text>
<text x="501.80" y="223.80" font-size="14" text-anchor="middle" font-weight="bold" font-family="&quot;Liberation Sans&quot;, sans-serif" >D</text>
<line x1="333.60" y1="322.70" x2="437.50" y2="228.40" stroke="#000" stroke-width="1.5" />
<polyline points="333.60,322.70 334.44,321.44 335.27,320.63 336.11,319.85 336.94,319.07 337.78,318.32 338.62,317.58 339.45,316.85 340.29,316.14 341.12,315.44 341.96,314.76 342.80,314.09 343.63,313.43 344.47,312.79 345.30,312.16 346.14,311.54 346.98,310.94 347.81,310.35 348.65,309.77 349.48,309.20 350.32,308.64 351.16,308.10 351.99,307.56 352.83,307.04 353.66,306.53 354.50,306.02 355.34,305.53 356.17,305.05 357.01,304.57 357.84,304.11 358.68,303.65 359.52,303.20 360.35,302.76 361.19,302.33 362.02,301.91 362.86,301.49 363.70,301.08 364.53,300.68 365.37,300.29 366.20,299.90 367.04,299.52 367.88,299.14 368.71,298.77 369.55,298.40 370.38,298.04 371.22,297.69 372.06,297.34 372.89,296.99 373.73,296.65 374.56,296.31 375.40,295.98 376.24,295.64 377.07,295.32 377.91,294.99 378.74,294.67 379.58,294.35 380.42,294.03 381.25,293.71 382.09,293.40 382.92,293.08 383.76,292.77 384.60,292.46 385.43,292.16 386.27,291.85 387.10,291.55 387.94,291.25 388.78,290.95 389.61,290.65 390.45,290.36 391.28,290.06 392.12,289.77 392.96,289.49 393.79,289.20 394.63,288.92 395.46,288.63 396.30,288.36 397.14,288.08 397.97,287.80 398.81,287.53 399.64,287.26 400.48,286.99 401.32,286.73 402.15,286.47 402.99,286.21 403.82,285.95 404.66,285.69 405.50,285.44 406.33,285.19 407.17,284.95 408.00,284.70 408.84,284.46 409.68,284.22 410.51,283.98 411.35,283.75 412.18,283.52 413.02,283.29 413.86,283.06 414.69,282.84 415.53,282.62 416.36,282.40 417.20,282.18 418.04,281.97 418.87,281.76 419.71,281.55 420.54,281.35 421.38,281.14 422.22,280.94 423.05,280.75 423.89,280.55 424.72,280.36 425.56,280.17 426.40,279.98 427.23,279.80 428.07,279.62 428.90,279.44 429.74,279.26 430.58,279.09 431.41,278.92 432.25,278.75 433.08,278.59 433.92,278.42 434.76,278.26 435.59,278.10 436.43,277.95 437.26,277.80 438.10,277.65 438.94,277.50 439.77,277.36 440.61,277.21 441.44,277.07 442.28,276.94 443.12,276.80 443.95,276.67 444.79,276.54 445.62,276.42 446.46,276.29 447.30,276.17 448.13,276.05 448.97,275.94 449.80,275.83 450.64,275.71 451.48,275.61 452.31,275.50 453.15,275.40 453.98,275.30 454.82,275.20 455.66,275.11 456.49,275.01 457.33,274.93 458.16,274.84 459.00,274.75 459.84,274.67 460.67,274.59 461.51,274.52 462.34,274.44 463.18,274.37 464.02,274.30 464.85,274.24 465.69,274.17 466.52,274.11 467.36,274.06" fill="none" stroke="#000" stroke-width="2.5" stroke-linejoin="round" stroke-linecap="round" /></svg>
</body></html>
